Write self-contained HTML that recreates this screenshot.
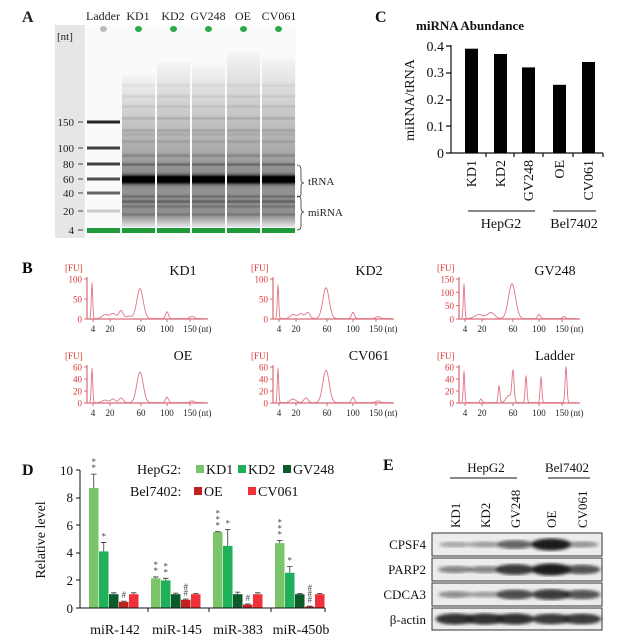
<!DOCTYPE html><html><head><meta charset="utf-8"><style>
body{margin:0;background:#fff}svg{display:block;font-family:"Liberation Serif",serif}
</style></head><body>
<svg id="s" width="632" height="643" viewBox="0 0 632 643" xmlns="http://www.w3.org/2000/svg">
<rect width="632" height="643" fill="#fff"/>
<g id="gel"></g>
<g font-size="12" fill="#222">
<text x="22" y="22" font-size="16" font-weight="bold">A</text>
<text x="103" y="20" text-anchor="middle">Ladder</text>
<text x="138" y="20" text-anchor="middle">KD1</text>
<text x="173" y="20" text-anchor="middle">KD2</text>
<text x="208" y="20" text-anchor="middle">GV248</text>
<text x="243" y="20" text-anchor="middle">OE</text>
<text x="279" y="20" text-anchor="middle">CV061</text>
<text x="57" y="40" font-size="11">[nt]</text>
<g text-anchor="end" font-size="11"><text x="74" y="126">150</text><text x="74" y="152">100</text><text x="74" y="168">80</text><text x="74" y="183">60</text><text x="74" y="197">40</text><text x="74" y="215">20</text><text x="74" y="234">4</text></g>
<text x="308" y="185" font-size="11">tRNA</text><text x="308" y="216" font-size="11">miRNA</text>
</g>
<path d="M297 165 q4 0 4 5 v10 q0 3 3 3 q-3 0 -3 3 v8 q0 3 -4 3 M297 196 q4 0 4 4 v8 q0 4 3 4 q-3 0 -3 4 v10 q0 4 -4 4" fill="none" stroke="#333" stroke-width="0.8"/>
<!-- Panel C -->
<g font-size="13" fill="#111">
<text x="375" y="22" font-size="16" font-weight="bold">C</text>
<text x="470" y="30" text-anchor="middle" font-weight="bold">miRNA Abundance</text>
<g text-anchor="end" font-size="14"><text x="444" y="51">0.4</text><text x="444" y="77">0.3</text><text x="444" y="104">0.2</text><text x="444" y="131">0.1</text><text x="444" y="158">0</text></g>
<text transform="translate(414,100) rotate(-90)" text-anchor="middle" font-size="14">miRNA/tRNA</text>
<g font-size="14" text-anchor="end"><text transform="translate(476,160) rotate(-90)">KD1</text><text transform="translate(505,160) rotate(-90)">KD2</text><text transform="translate(533,160) rotate(-90)">GV248</text><text transform="translate(564,160) rotate(-90)">OE</text><text transform="translate(593,160) rotate(-90)">CV061</text></g>
<text x="501" y="228" text-anchor="middle" font-size="14">HepG2</text><text x="574" y="228" text-anchor="middle" font-size="14">Bel7402</text>
</g>
<g stroke="#111" stroke-width="1.2" fill="none"><path d="M451 45V153H603M446 46h5M446 73h5M446 100h5M446 126h5M446 153h5M486 153v4M514 153v4M543 153v4M573 153v4M603 153v4"/><path d="M468 211H535M553 211H596" stroke-width="1"/></g>
<g fill="#000"><rect x="465" y="48.7" width="13" height="104.3"/><rect x="494" y="54" width="13" height="99"/><rect x="522" y="67.4" width="13" height="85.6"/><rect x="553" y="84.8" width="13" height="68.2"/><rect x="582" y="62" width="13" height="91"/></g>
<!-- Panel B -->
<text x="22" y="273" font-size="16" font-weight="bold">B</text>
<g id="elec"></g>
<g font-size="14" fill="#111" text-anchor="middle"><text x="183" y="275">KD1</text><text x="369" y="275">KD2</text><text x="555" y="275">GV248</text><text x="183" y="360">OE</text><text x="369" y="360">CV061</text><text x="555" y="360">Ladder</text></g>
<!-- Panel D -->
<g font-size="13" fill="#111">
<text x="22" y="475" font-size="16" font-weight="bold">D</text>
<g text-anchor="end"><text x="73" y="475">10</text><text x="73" y="502">8</text><text x="73" y="530">6</text><text x="73" y="557">4</text><text x="73" y="585">2</text><text x="73" y="613">0</text></g>
<text transform="translate(45,540) rotate(-90)" text-anchor="middle" font-size="14">Relative level</text>
<g text-anchor="middle" font-size="14"><text x="115" y="634">miR-142</text><text x="177" y="634">miR-145</text><text x="238" y="634">miR-383</text><text x="301" y="634">miR-450b</text></g>
<text x="137" y="474" font-size="14">HepG2:</text><text x="206" y="474" font-size="14">KD1</text><text x="248" y="474" font-size="14">KD2</text><text x="293" y="474" font-size="14">GV248</text>
<text x="130" y="496" font-size="14">Bel7402:</text><text x="204" y="496" font-size="14">OE</text><text x="258" y="496" font-size="14">CV061</text>
</g>
<rect x="196" y="465" width="8" height="8" fill="#7cc46a"/><rect x="238" y="465" width="8" height="8" fill="#1fb05a"/><rect x="283" y="465" width="8" height="8" fill="#0d5a2c"/><rect x="194" y="487" width="8" height="8" fill="#c0201e"/><rect x="248" y="487" width="8" height="8" fill="#f0303a"/>
<g id="bars"></g>
<path d="M80 470V608H325M76 470h4M76 498h4M76 525h4M76 553h4M76 580h4M76 608h4M148 608v4M209 608v4M271 608v4M325 608v4" stroke="#111" fill="none"/>
<!-- Panel E -->
<defs><filter id="bl"><feGaussianBlur stdDeviation="1.6"/></filter></defs>
<g id="blot"></g>
<g font-size="13" fill="#111">
<text x="383" y="470" font-size="16" font-weight="bold">E</text>
<text x="486" y="472" text-anchor="middle">HepG2</text><text x="567" y="472" text-anchor="middle">Bel7402</text>
<g text-anchor="start"><text transform="translate(460,528) rotate(-90)">KD1</text><text transform="translate(490,528) rotate(-90)">KD2</text><text transform="translate(520,528) rotate(-90)">GV248</text><text transform="translate(556,528) rotate(-90)">OE</text><text transform="translate(587,528) rotate(-90)">CV061</text></g>
<g text-anchor="end"><text x="426" y="549">CPSF4</text><text x="426" y="574">PARP2</text><text x="426" y="599">CDCA3</text><text x="426" y="624">β-actin</text></g>
</g>
<path d="M450 478H517M548 478H590" stroke="#111"/>
</svg>
<script>
var NS="http://www.w3.org/2000/svg";
function el(p,t,a){var e=document.createElementNS(NS,t);for(var k in a)e.setAttribute(k,a[k]);p.appendChild(e);return e;}
var g=document.getElementById('gel');
el(g,'rect',{x:55,y:25,width:30,height:213,fill:'#e6e6e6'});
el(g,'rect',{x:86,y:25,width:210,height:213,fill:'#fafafa'});
var lad=[[122,0.85],[148,0.75],[164,0.75],[179,0.7],[193,0.6],[211,0.2]];
lad.forEach(function(b){var c=Math.round(255*(1-b[1]));el(g,'rect',{x:87,y:b[0]-1.5,width:33,height:3,fill:'rgb('+c+','+c+','+c+')'});});
[[150,122],[100,148],[80,164],[60,179],[40,193],[20,211],[4,230]].forEach(function(t){el(g,'rect',{x:78,y:t[1]-0.5,width:5,height:1,fill:'#444'});});
var tops=[75,62,65,52,58];
var bands=[[85,.05],[96,.06],[106,.07],[118,.1],[130,.1],[134,.06],[141,.08],[155,.12],[164,.2],[196,.15],[201,.2],[206,.12],[214,.1]];
for(var L=0;L<5;L++){var x0=122+L*35;
 for(var y=tops[L];y<227;y++){var d;
  if(y<150)d=0.02+0.3*(y-tops[L])/(150-tops[L]);else if(y<170)d=0.32+0.1*(y-150)/20;else if(y<215)d=0.42;else d=0.42-0.35*(y-215)/12;
  d+=0.9*Math.exp(-Math.pow((y-179)/4,2));
  bands.forEach(function(b){d+=b[1]*Math.exp(-Math.pow((y-b[0])/1.5,2));});
  d=Math.min(1,Math.max(0,d));var c=Math.round(250*(1-d));
  el(g,'rect',{x:x0,y:y,width:33,height:1.05,fill:'rgb('+c+','+c+','+c+')'});}
}
for(var L=0;L<6;L++){var xx=L==0?87:122+(L-1)*35;el(g,'rect',{x:xx,y:228,width:33,height:5,fill:'#1f9a3a'});
 el(g,'ellipse',{cx:xx+16.5,cy:29,rx:3.5,ry:3,fill:L==0?'#bbb':'#2aa84a'});}
var E=document.getElementById('elec');
var cfg=[
 {ox:0,oy:0,max:100,ticks:[0,50,100],h:40,peaks:[[5,.9,1],[18,.1,4],[26,.13,4],[34,.2,3],[42,.06,4],[53,.75,4.5],[80,.17,2],[105,.06,3]]},
 {ox:186,oy:0,max:100,ticks:[0,50,100],h:40,peaks:[[5,.85,1],[20,.1,4],[28,.12,4],[35,.15,3],[53,.77,4.5],[80,.16,2],[105,.05,3]]},
 {ox:372,oy:0,max:150,ticks:[0,50,100,150],h:40,peaks:[[5,.87,1],[20,.1,6],[32,.15,5],[53,.87,5],[80,.1,2],[105,.05,2]]},
 {ox:0,oy:84,max:60,ticks:[0,20,40,60],h:36,peaks:[[5,.95,1],[18,.07,4],[26,.1,3],[34,.13,3],[53,.85,4.5],[80,.15,2],[105,.05,3]]},
 {ox:186,oy:84,max:60,ticks:[0,20,40,60],h:36,peaks:[[5,.95,1],[20,.1,4],[33,.13,3],[53,.9,4.5],[80,.15,2],[105,.05,3]]},
 {ox:372,oy:84,max:60,ticks:[0,20,40,60],h:36,peaks:[[5,.88,1],[22,.1,1.5],[40,.48,1.2],[54,.85,1.5],[50,.2,4],[67,.75,1.2],[82,.72,1.2],[107,1,1.3]]}];
cfg.forEach(function(c){var ax=87+c.ox,by=319+c.oy,top=by-c.h;
 el(E,'text',{x:ax-22,y:top-8,'font-size':9,fill:'#d33'}).textContent='[FU]';
 el(E,'path',{d:'M'+ax+' '+(top-2)+'V'+by+'H'+(ax+121),stroke:'#d96a7a',fill:'none','stroke-width':1.2});
 c.ticks.forEach(function(t){var y=by-c.h*t/c.max;el(E,'path',{d:'M'+(ax-3)+' '+y+'h3',stroke:'#d96a7a'});el(E,'text',{x:ax-5,y:y+3.5,'font-size':9,fill:'#d33','text-anchor':'end'}).textContent=t;});
 [[4,6],[20,23],[60,54],[100,80],[150,103]].forEach(function(t){el(E,'path',{d:'M'+(ax+t[1])+' '+by+'v3',stroke:'#d96a7a'});el(E,'text',{x:ax+t[1],y:by+13,'font-size':9,fill:'#222','text-anchor':'middle'}).textContent=t[0];});
 el(E,'text',{x:ax+118,y:by+13,'font-size':9,fill:'#222','text-anchor':'middle'}).textContent='(nt)';
 var d='';for(var i=3;i<=118;i+=0.5){var v=0.01;c.peaks.forEach(function(p){v+=p[1]*Math.exp(-Math.pow((i-p[0])/p[2],2));});d+=(d?'L':'M')+(ax+i)+' '+(by-c.h*Math.min(v,1.05)).toFixed(1);}
 el(E,'path',{d:d,stroke:'#e07585',fill:'none','stroke-width':0.9});
});
var B=document.getElementById('bars'),cols=['#7cc46a','#1fb05a','#0d5a2c','#c0201e','#f0303a'];
var vals=[[8.7,4.1,1,0.45,1],[2.15,2.0,1,0.6,1],[5.5,4.5,1,0.25,1],[4.7,2.55,1,0.1,1]];
var errs=[[1.0,0.65,0.1,0.05,0.1],[0.1,0.15,0.08,0.05,0.05],[0.03,1.2,0.15,0.05,0.1],[0.2,0.45,0.05,0.03,0.05]];
var ann=[['**','*','','#',''],['**','**','','##',''],['***','*','','#',''],['***','*','','###','']];
for(var gi=0;gi<4;gi++)for(var k=0;k<5;k++){var x=89+gi*62+k*10,v=vals[gi][k],y=608-13.8*v;
 el(B,'rect',{x:x,y:y,width:9.5,height:608-y,fill:cols[k]});
 var ey=608-13.8*(v+errs[gi][k]);el(B,'path',{d:'M'+(x+4.75)+' '+y+'V'+ey+'M'+(x+2)+' '+ey+'h5.5',stroke:'#333','stroke-width':0.8});
 if(ann[gi][k]){var s=ann[gi][k];for(var j=0;j<s.length;j++)el(B,'text',{x:x+4.75,y:ey-3-j*6,'font-size':9,'text-anchor':'middle',fill:'#444'}).textContent=s[j];}}
var W=document.getElementById('blot');
var rows=[[533,23,[.2,.25,.6,1,.3]],[558,23,[.4,.4,.85,1,.7]],[583,23,[.35,.25,.75,.85,.7]],[608,22,[.9,.9,.9,.85,.85]]];
var cx=[455,485,515,551,582];
rows.forEach(function(r){el(W,'rect',{x:432,y:r[0],width:170,height:r[1],fill:'#ececec',stroke:'#333'});
 r[2].forEach(function(a,i){var c=Math.round(30+30*(1-a));el(W,'ellipse',{cx:cx[i],cy:r[0]+r[1]/2,rx:15+5*a,ry:2+4*a,fill:'rgb('+c+','+c+','+c+')','fill-opacity':0.25+0.75*a,filter:'url(#bl)'});});});
</script>
</body></html>
